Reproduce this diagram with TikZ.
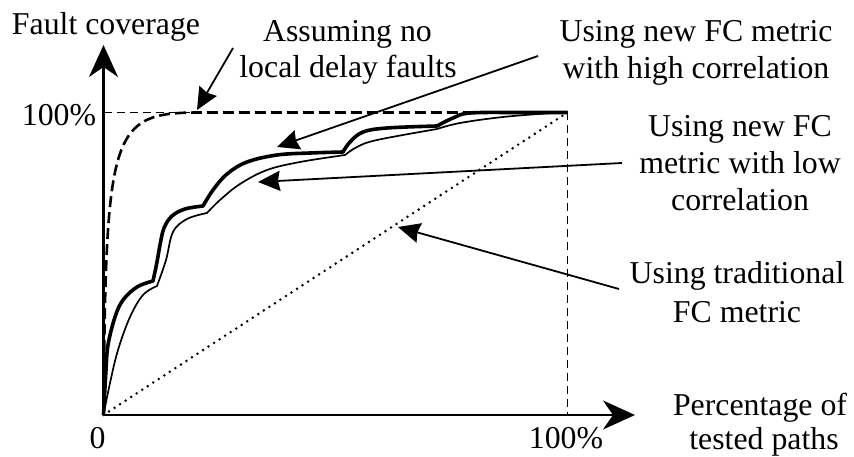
\documentclass[tikz,border=0pt]{standalone}
\usepackage{fontspec}
\setmainfont{Liberation Serif}
\usetikzlibrary{arrows.meta}
\begin{document}
\begin{tikzpicture}[x=1pt,y=-1pt,
  lbl/.style={font=\fontsize{31.8}{36}\selectfont, inner sep=0pt, anchor=base},
  axis/.style={line width=2.3pt, -{Stealth[length=32pt,width=29pt,inset=10pt]}},
  pointer/.style={line width=1.8pt, -{Stealth[length=22pt,width=20pt,inset=2pt]}},
  grid/.style={line width=1.6pt, dash pattern=on 8pt off 5pt},
  ideal/.style={line width=2.6pt, dash pattern=on 11pt off 5pt},
  high/.style={line width=3.6pt, line join=round},
  low/.style={line width=1.7pt, line join=round},
  trad/.style={line width=2.8pt, line cap=round, dash pattern=on 0pt off 6.6pt}]
\useasboundingbox (0,0) rectangle (854,457);
% key points
\coordinate (O) at (103.5,415);
\coordinate (Ytip) at (103.5,45);
\coordinate (Xtip) at (635,415);
\coordinate (Ytop) at (103.5,112.5);
\coordinate (C) at (567.5,112.5);
\coordinate (Xr) at (567.5,415);
\coordinate (K) at (200,112.5);
% grid lines
\draw[grid] (Ytop) -- (K);
\draw[grid] (C) -- (Xr);
% traditional (dotted)
\draw[trad] (O) -- (C);
% ideal dashed curve
\draw[ideal] (O) .. controls (106,130) and (110,112.5) .. (K) -- (C);
% low correlation (thin)
\draw[low] plot[smooth, tension=0.6] coordinates {(103.5,415) (110,383) (118,350) (130,317) (143,295) (157,286)}
  -- plot[smooth, tension=0.6] coordinates {(157,286) (166,260) (173,232) (187,219) (207,213)}
  -- plot[smooth, tension=0.6] coordinates {(207,213) (220,200) (240,184) (267,170) (300,162) (345,155)}
  -- plot[smooth, tension=0.6] coordinates {(345,155) (357,147) (377,140) (437,129)}
  -- plot[smooth, tension=0.6] coordinates {(437,129) (460,123) (503,117) (553,113) (567.5,112.5)};
% high correlation (thick)
\draw[high] plot[smooth, tension=0.6] coordinates {(103.5,415) (106,370) (108,345) (115,317) (123,300) (137,287) (153,281)}
  -- plot[smooth, tension=0.6] coordinates {(153,281) (157,262) (160,245) (164,228) (172,216) (185,209) (203,206)}
  -- plot[smooth, tension=0.6] coordinates {(203,206) (213,190) (227,174) (247,162) (277,155) (310,153) (343,152)}
  -- plot[smooth, tension=0.6] coordinates {(343,152) (350,142) (363,132) (387,128) (437,126)}
  -- plot[smooth, tension=0.6] coordinates {(437,126) (453,118) (470,113) (520,112.5) (567.5,112.5)};
% axes
\draw[axis] (O) -- (Ytip);
\draw[axis] (O) -- (Xtip);
% labels
\node[lbl] (fc) at (106,35) {Fault coverage};
\node[lbl] (as1) at (347.5,42) {Assuming no};
\node[lbl] (as2) at (348,78) {local delay faults};
\node[lbl] (hi1) at (696,42) {Using new FC metric};
\node[lbl] (hi2) at (696,79) {with high correlation};
\node[lbl] (lo1) at (740,137) {Using new FC};
\node[lbl] (lo2) at (740,174) {metric with low};
\node[lbl] (lo3) at (740,211) {correlation};
\node[lbl] (tr1) at (737,283) {Using traditional};
\node[lbl] (tr2) at (737,322) {FC metric};
\node[lbl] (yh) at (59,126) {100\%};
\node[lbl] (zero) at (97.5,448) {0};
\node[lbl] (xh) at (566,448) {100\%};
\node[lbl] (pc1) at (760,415) {Percentage of};
\node[lbl] (pc2) at (764,449) {tested paths};
% pointers
\coordinate (asS) at (233,48);   \coordinate (asT) at (197,110);
\coordinate (hiS) at (538,56);   \coordinate (hiT) at (277,147);
\coordinate (loS) at (622,163);  \coordinate (loT) at (258,182);
\coordinate (trS) at (619,289);  \coordinate (trT) at (398,227);
\draw[pointer] (asS) -- (asT);
\draw[pointer] (hiS) -- (hiT);
\draw[pointer] (loS) -- (loT);
\draw[pointer] (trS) -- (trT);
\end{tikzpicture}
\end{document}
